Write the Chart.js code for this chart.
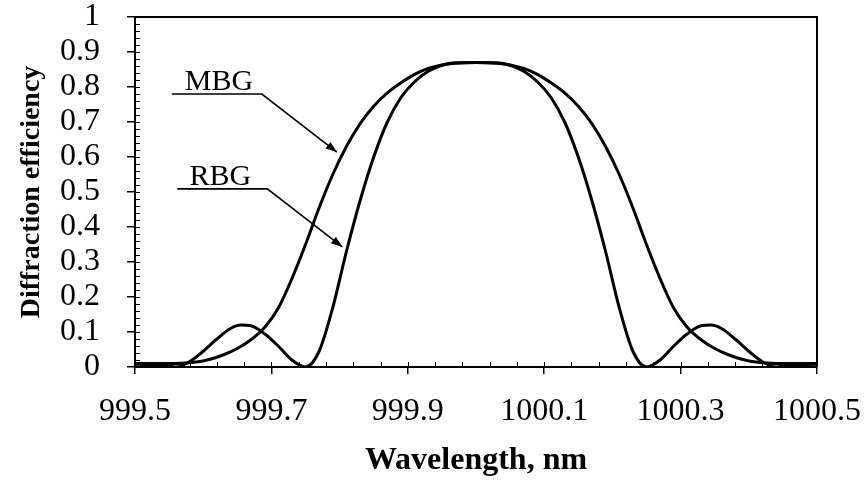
<!DOCTYPE html>
<html>
<head>
<meta charset="utf-8">
<script src="https://cdn.jsdelivr.net/npm/chart.js@4.4.0/dist/chart.umd.min.js"></script>
<style>
  html, body { margin: 0; padding: 0; background: #fff; }
  #wrap { width: 866px; height: 481px; }
</style>
</head>
<body>
<div id="wrap"><canvas id="chart"></canvas></div>
<script>
// Wavelength (nm) / diffraction efficiency
const mbgWavelength = [999.50, 999.53, 999.56, 999.59, 999.61, 999.63, 999.65, 999.67, 999.69, 999.71,
  999.73, 999.75, 999.77, 999.79, 999.81, 999.83, 999.85, 999.87, 999.89, 999.91, 999.93, 999.95, 999.97,
  1000.00, 1000.03, 1000.05, 1000.07, 1000.09, 1000.11, 1000.13, 1000.15, 1000.17, 1000.19, 1000.21,
  1000.23, 1000.25, 1000.27, 1000.29, 1000.31, 1000.33, 1000.35, 1000.37, 1000.39, 1000.41, 1000.44, 1000.47, 1000.50]
const mbgEfficiency = [0.010, 0.010, 0.010, 0.014, 0.022, 0.035, 0.053, 0.078, 0.113, 0.168,
  0.252, 0.350, 0.455, 0.550, 0.630, 0.695, 0.745, 0.783, 0.812, 0.836, 0.853, 0.863, 0.868,
  0.870, 0.868, 0.863, 0.853, 0.836, 0.812, 0.783, 0.745, 0.695, 0.630, 0.550,
  0.455, 0.350, 0.252, 0.168, 0.113, 0.078, 0.053, 0.035, 0.022, 0.014, 0.010, 0.010, 0.010]

const rbgWavelength = [999.50, 999.54, 999.56, 999.58, 999.60, 999.62, 999.64, 999.655, 999.67, 999.69,
  999.71, 999.73, 999.75, 999.77, 999.79, 999.81, 999.83, 999.85, 999.87, 999.89, 999.91, 999.93, 999.95, 999.97,
  1000.00, 1000.03, 1000.05, 1000.07, 1000.09, 1000.11, 1000.13, 1000.15, 1000.17, 1000.19, 1000.21,
  1000.23, 1000.25, 1000.27, 1000.29, 1000.31, 1000.33, 1000.345, 1000.36, 1000.38, 1000.40, 1000.42, 1000.44, 1000.46, 1000.50]
const rbgEfficiency = [0.008, 0.005, 0.000, 0.015, 0.045, 0.080, 0.110, 0.120, 0.118, 0.095,
  0.060, 0.020, 0.000, 0.045, 0.170, 0.330, 0.475, 0.600, 0.700, 0.770, 0.815, 0.845, 0.862, 0.869,
  0.870, 0.869, 0.862, 0.845, 0.815, 0.770, 0.700, 0.600, 0.475, 0.330, 0.170,
  0.045, 0.000, 0.020, 0.060, 0.095, 0.118, 0.120, 0.110, 0.080, 0.045, 0.015, 0.000, 0.005, 0.008]

const xTicks = [999.5, 999.7, 999.9, 1000.1, 1000.3, 1000.5]
const yTicks = [0, 0.1, 0.2, 0.3, 0.4, 0.5, 0.6, 0.7, 0.8, 0.9, 1]

// callouts: label centre, underline ends, arrow tip (data units)
const callouts = [
  { text: 'MBG', at: [999.623, 0.814], line: [999.554, 999.686, 0.78], tip: [999.796, 0.614] },
  { text: 'RBG', at: [999.625, 0.543], line: [999.562, 999.694, 0.509], tip: [999.804, 0.343] },
]

const serif = "'Liberation Serif', 'Times New Roman', serif"

function toPoints(xs, ys) {
  return xs.map((x, i) => ({ x: x, y: ys[i] }))
}

// frame, minor ticks and the callout arrows
const decorations = {
  id: 'decorations',
  afterDraw(chart) {
    const ctx = chart.ctx
    const area = chart.chartArea
    const xs = chart.scales.x
    const ys = chart.scales.y
    ctx.save()
    ctx.strokeStyle = '#000'
    ctx.lineWidth = 2
    ctx.beginPath()
    ctx.moveTo(area.left, area.top)
    ctx.lineTo(area.right, area.top)
    ctx.lineTo(area.right, area.bottom)
    ctx.stroke()

    // minor ticks
    ctx.lineWidth = 1
    ctx.beginPath()
    for (let i = 1; i < 50; i++) {
      const py = Math.round(ys.getPixelForValue(i / 50)) + 0.5
      ctx.moveTo(area.left, py)
      ctx.lineTo(area.left + 5, py)
    }
    for (let i = 1; i < 25; i++) {
      const px = Math.round(xs.getPixelForValue(999.5 + i * 0.04)) + 0.5
      ctx.moveTo(px, area.bottom)
      ctx.lineTo(px, area.bottom - 5)
    }
    ctx.stroke()

    // callouts
    ctx.font = '30px ' + serif
    ctx.fillStyle = '#000'
    ctx.textAlign = 'center'
    ctx.textBaseline = 'middle'
    callouts.forEach(c => {
      ctx.fillText(c.text, xs.getPixelForValue(c.at[0]), ys.getPixelForValue(c.at[1]))
      const x0 = xs.getPixelForValue(c.line[0])
      const x1 = xs.getPixelForValue(c.line[1])
      const y1 = ys.getPixelForValue(c.line[2])
      const tx = xs.getPixelForValue(c.tip[0])
      const ty = ys.getPixelForValue(c.tip[1])
      ctx.lineWidth = 1.6
      ctx.beginPath()
      ctx.moveTo(x0, y1)
      ctx.lineTo(x1, y1)
      ctx.lineTo(tx, ty)
      ctx.stroke()
      const ang = Math.atan2(ty - y1, tx - x1)
      ctx.beginPath()
      ctx.moveTo(tx, ty)
      ctx.lineTo(tx - 12 * Math.cos(ang - 0.35), ty - 12 * Math.sin(ang - 0.35))
      ctx.lineTo(tx - 12 * Math.cos(ang + 0.35), ty - 12 * Math.sin(ang + 0.35))
      ctx.closePath()
      ctx.fill()
    })
    ctx.restore()
  }
}

new Chart(document.getElementById('chart'), {
  type: 'line',
  data: {
    datasets: [
      { label: 'MBG', data: toPoints(mbgWavelength, mbgEfficiency) },
      { label: 'RBG', data: toPoints(rbgWavelength, rbgEfficiency) },
    ]
  },
  options: {
    responsive: true,
    maintainAspectRatio: false,
    animation: false,
    layout: { padding: { left: 15, top: 17, right: 49, bottom: 0 } },
    elements: {
      point: { radius: 0 },
      line: { borderColor: '#000', borderWidth: 3, cubicInterpolationMode: 'monotone', fill: false }
    },
    plugins: {
      legend: { display: false },
      tooltip: { enabled: false }
    },
    scales: {
      x: {
        type: 'linear',
        min: 999.5,
        max: 1000.5,
        afterBuildTicks: scale => { scale.ticks = xTicks.map(v => ({ value: v })) },
        afterFit: scale => {
          scale.height = 114
          scale.paddingLeft = 0
          scale.paddingRight = 0
        },
        border: { color: '#000', width: 2 },
        grid: { drawOnChartArea: false, drawTicks: true, tickLength: 7, color: '#000', lineWidth: 1.5 },
        ticks: {
          color: '#000',
          padding: 18,
          maxRotation: 0,
          font: { family: serif, size: 32 },
          callback: v => Number(v).toFixed(1)
        },
        title: {
          display: true,
          text: 'Wavelength, nm',
          color: '#000',
          font: { family: serif, size: 32, weight: 'bold' },
          padding: { top: 0, bottom: 1 }
        }
      },
      y: {
        min: 0,
        max: 1,
        afterBuildTicks: scale => { scale.ticks = yTicks.map(v => ({ value: v })) },
        afterFit: scale => {
          scale.width = 120
          scale.paddingTop = 0
          scale.paddingBottom = 0
        },
        border: { color: '#000', width: 2 },
        grid: { drawOnChartArea: false, drawTicks: true, tickLength: 8, color: '#000', lineWidth: 1.5 },
        ticks: {
          color: '#000',
          padding: 27,
          font: { family: serif, size: 32, lineHeight: 1 },
          callback: v => String(Number(Number(v).toFixed(1)))
        },
        title: {
          display: true,
          text: 'Diffraction efficiency',
          color: '#000',
          font: { family: serif, size: 28, weight: 'bold' },
          padding: { top: 0, bottom: 0 }
        }
      }
    }
  },
  plugins: [decorations]
})
</script>
</body>
</html>
